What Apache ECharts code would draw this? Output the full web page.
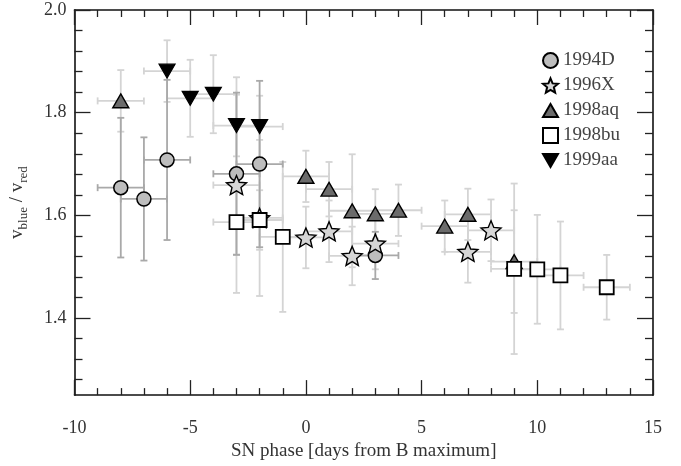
<!DOCTYPE html>
<html>
<head>
<meta charset="utf-8">
<script src="https://cdn.jsdelivr.net/npm/echarts@6/dist/echarts.min.js"></script>
<style>
  html, body { margin: 0; padding: 0; background: #fff; }
  #chart { width: 681px; height: 466px; }
</style>
</head>
<body>
<div id="chart"></div>
<script>
// Each row: [phase (days from B max), v_blue / v_red, phase error, ratio error]
const sn1994D = [
  [-8, 1.654, 1, 0.136],
  [-7, 1.632, 1, 0.120],
  [-6, 1.708, 1, 0.156],
  [-3, 1.681, 1, 0.158],
  [-2, 1.700, 1, 0.162],
  [3, 1.522, 1, 0.046]
];
const sn1996X = [
  [-3, 1.659, 1, 0.210],
  [-2, 1.595, 1, 0.152],
  [0, 1.557, 1, 0.060],
  [1, 1.569, 1, 0.060],
  [2, 1.521, 1, 0.057],
  [3, 1.545, 1, 0.050],
  [7, 1.529, 1, 0.060],
  [8, 1.571, 1, 0.060]
];
const sn1998aq = [
  [-8, 1.823, 1, 0.060],
  [0, 1.676, 1, 0.050],
  [1, 1.651, 1, 0.053],
  [2, 1.609, 1, 0.110],
  [3, 1.603, 1, 0.048],
  [4, 1.610, 1, 0.050],
  [6, 1.579, 1, 0.050],
  [7, 1.602, 1, 0.050],
  [9, 1.510, 1, 0.100]
];
const sn1998bu = [
  [-3, 1.587, 1, 0.063],
  [-2, 1.591, 1, 0.058],
  [-1, 1.558, 1, 0.146],
  [9, 1.496, 1, 0.166],
  [10, 1.495, 1, 0.106],
  [11, 1.483, 1, 0.105],
  [13, 1.460, 1, 0.063]
];
const sn1999aa = [
  [-6, 1.881, 1, 0.060],
  [-5, 1.828, 1, 0.075],
  [-4, 1.836, 1, 0.076],
  [-3, 1.775, 1, 0.060],
  [-2, 1.773, 1, 0.060]
];

const seriesNames = ['1994D', '1996X', '1998aq', '1998bu', '1999aa'];
const yMajorTicks = [1.4, 1.6, 1.8, 2.0];
const yMinorTicks = [1.28, 1.32, 1.36, 1.44, 1.48, 1.52, 1.56, 1.64, 1.68, 1.72, 1.76, 1.84, 1.88, 1.92, 1.96];

const FONT = 'Liberation Serif';
const TEXT = '#333';

const STAR = 'path://M100,0 L126.5,63.6 L195.1,69.1 L142.8,113.9 L158.8,180.9 L100,145 L41.2,180.9 L57.2,113.9 L4.9,69.1 L73.5,63.6 Z';
const TRI_UP = 'path://M100,0 L200,173 L0,173 Z';
const TRI_DOWN = 'path://M0,0 L200,0 L100,173 Z';

// Horizontal and vertical error bars with small end caps
function errorBars(data, color) {
  return {
    type: 'custom',
    silent: true,
    z: 1,
    data: data,
    encode: { x: 0, y: 1 },
    renderItem: function (params, api) {
      const x = api.value(0), y = api.value(1), dx = api.value(2), dy = api.value(3);
      const l = api.coord([x - dx, y]), r = api.coord([x + dx, y]);
      const t = api.coord([x, y + dy]), b = api.coord([x, y - dy]);
      const cap = 3.5;
      const style = { stroke: color, lineWidth: 1.8 };
      const seg = (x1, y1, x2, y2) => ({ type: 'line', shape: { x1, y1, x2, y2 }, style });
      return {
        type: 'group',
        children: [
          seg(l[0], l[1], r[0], r[1]),
          seg(l[0], l[1] - cap, l[0], l[1] + cap),
          seg(r[0], r[1] - cap, r[0], r[1] + cap),
          seg(t[0], t[1], b[0], b[1]),
          seg(t[0] - cap, t[1], t[0] + cap, t[1]),
          seg(b[0] - cap, b[1], b[0] + cap, b[1])
        ]
      };
    }
  };
}

function points(name, data, symbol, size, fill, borderWidth) {
  return {
    type: 'scatter',
    name: name,
    z: 3,
    data: data,
    encode: { x: 0, y: 1 },
    symbol: symbol,
    symbolSize: size,
    symbolKeepAspect: true,
    itemStyle: { color: fill, borderColor: '#000', borderWidth: borderWidth, opacity: 1 },
    emphasis: { disabled: true }
  };
}

const tickStyle = { color: '#222', width: 1.3 };
const lineStyle = { color: '#111', width: 1.6 };

function xAxis(position, labels) {
  return {
    type: 'value', position: position, min: -10, max: 15, interval: 5,
    axisLine: { show: true, onZero: false, lineStyle: lineStyle },
    axisTick: { show: true, inside: true, length: 15, lineStyle: tickStyle },
    minorTick: { show: true, splitNumber: 5, length: 7, lineStyle: tickStyle },
    splitLine: { show: false },
    minorSplitLine: { show: false },
    axisLabel: { show: labels, margin: 24, fontSize: 18, fontFamily: FONT, color: TEXT },
    name: labels ? 'SN phase [days from B maximum]' : '',
    nameLocation: 'middle',
    nameGap: 46,
    nameTextStyle: { fontSize: 19, fontFamily: FONT, color: TEXT }
  };
}

function yAxis(position, ticks, len, labels, line) {
  return {
    type: 'value', position: position, min: 1.25, max: 2.0,
    axisLine: { show: line, onZero: false, lineStyle: lineStyle },
    axisTick: { show: true, inside: true, length: len, customValues: ticks, lineStyle: tickStyle },
    splitLine: { show: false },
    axisLabel: {
      show: labels, customValues: ticks, margin: 8, fontSize: 18, fontFamily: FONT, color: TEXT,
      formatter: v => v.toFixed(1)
    },
    name: labels ? '{a|v}{s|blue}{a| / v}{s|red}' : '',
    nameLocation: 'middle',
    nameRotate: 90,
    nameGap: 44,
    nameTextStyle: {
      rich: {
        a: { fontSize: 19, fontFamily: FONT, color: TEXT, lineHeight: 26 },
        s: { fontSize: 13, fontFamily: FONT, color: TEXT, lineHeight: 14, verticalAlign: 'bottom' }
      }
    }
  };
}

const chart = echarts.init(document.getElementById('chart'), null, { renderer: 'canvas' });
chart.setOption({
  animation: false,
  backgroundColor: '#fff',
  grid: { left: 71, right: 28, top: 10, bottom: 65, containLabel: false },
  legend: {
    data: seriesNames,
    orient: 'vertical',
    left: 537,
    top: 46,
    itemWidth: 15,
    itemHeight: 15,
    itemGap: 6,
    selectedMode: false,
    textStyle: { fontFamily: FONT, fontSize: 19, color: '#444' }
  },
  xAxis: [xAxis('bottom', true), xAxis('top', false)],
  yAxis: [
    yAxis('left', yMajorTicks, 16, true, true),
    yAxis('left', yMinorTicks, 8, false, false),
    yAxis('right', yMajorTicks, 16, false, true),
    yAxis('right', yMinorTicks, 8, false, false)
  ],
  series: [
    errorBars(sn1996X, '#d4d4d4'),
    errorBars(sn1998aq, '#d4d4d4'),
    errorBars(sn1998bu, '#d4d4d4'),
    errorBars(sn1999aa, '#d4d4d4'),
    errorBars(sn1994D, '#a9a9a9'),
    points('1994D', sn1994D, 'circle', 14, '#bdbdbd', 1.5),
    points('1996X', sn1996X, STAR, 20, '#d6d6d6', 1.4),
    points('1998aq', sn1998aq, TRI_UP, 16, '#6b6b6b', 1.4),
    points('1998bu', sn1998bu, 'rect', 14, '#ffffff', 1.8),
    points('1999aa', sn1999aa, TRI_DOWN, 16, '#000000', 1.2)
  ]
});
</script>
</body>
</html>
